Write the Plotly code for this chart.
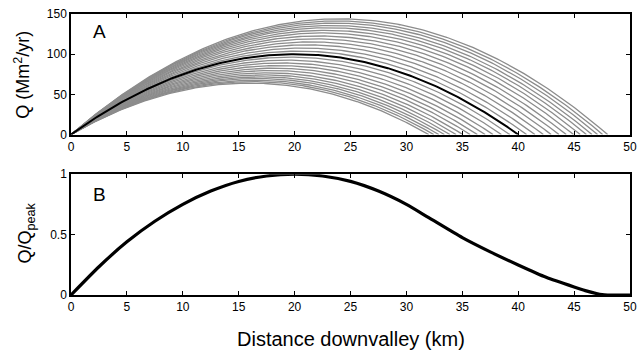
import numpy as np
import plotly.graph_objects as go

# ---- data ----
# Panel A: each gray curve starts at 0 km, peaks mid-way, returns to 0 at its end distance
end_km = [32.0, 32.45, 32.9, 33.4, 33.9, 34.45, 35.05, 35.7, 36.35, 37.05, 37.75, 38.5, 39.25,
          40.75, 41.5, 42.25, 42.95, 43.65, 44.3, 44.95, 45.55, 46.1, 46.6, 47.1, 47.55, 48.0]
peak_q = [64, 65.8, 67.6, 69.7, 71.8, 74.2, 76.8, 79.7, 82.6, 85.8, 89.1, 92.6, 96.3,
          103.8, 107.6, 111.6, 115.3, 119.1, 122.7, 126.4, 129.7, 132.9, 135.7, 138.7, 141.3, 144]
black_end_km = 40.0
black_peak_q = 100.0

# Panel B: normalised discharge
dist_b = [0, 2.5, 5, 7.5, 10, 12.5, 15, 17.5, 20, 22.5, 25, 27.5, 30, 32, 35, 37.5, 40,
          42.5, 45, 46, 47, 47.5, 48, 50]
qnorm_b = [0, 0.234, 0.44, 0.61, 0.75, 0.86, 0.94, 0.985, 1.0, 0.985, 0.94, 0.86, 0.75,
           0.64, 0.475, 0.357, 0.248, 0.146, 0.066, 0.036, 0.012, 0.003, 0, 0]

x_ticks = [0, 5, 10, 15, 20, 25, 30, 35, 40, 45, 50]


def parabola(L, P):
    x = np.linspace(0, L, 200)
    return x, 4 * P * x * (L - x) / (L * L)


fig = go.Figure()
for L, P in zip(end_km, peak_q):
    x, y = parabola(L, P)
    fig.add_trace(go.Scatter(x=x, y=y, mode="lines", line=dict(color="#8c8c8c", width=1.3),
                             xaxis="x", yaxis="y", showlegend=False, hoverinfo="skip"))
x, y = parabola(black_end_km, black_peak_q)
fig.add_trace(go.Scatter(x=x, y=y, mode="lines", line=dict(color="black", width=2),
                         xaxis="x", yaxis="y", showlegend=False))
fig.add_trace(go.Scatter(x=dist_b, y=qnorm_b, mode="lines",
                         line=dict(color="black", width=3.2, shape="spline", smoothing=0.6),
                         xaxis="x2", yaxis="y2", showlegend=False))

font = "Liberation Sans, Arial, Helvetica, sans-serif"
axcommon = dict(showline=True, linecolor="black", linewidth=1.5, mirror="ticks",
                ticks="inside", ticklen=4, tickwidth=1, tickcolor="black",
                showgrid=False, zeroline=False,
                tickfont=dict(family=font, size=12, color="black"))

fig.update_layout(
    width=644, height=358,
    margin=dict(l=71, r=7, t=11, b=63),
    paper_bgcolor="white", plot_bgcolor="white",
    xaxis=dict(domain=[0, 1], range=[0, 50], tickvals=x_ticks, anchor="y", **axcommon),
    yaxis=dict(domain=[0.571, 1], range=[0, 150], tickvals=[0, 50, 100, 150], anchor="x", **axcommon),
    xaxis2=dict(domain=[0, 1], range=[0, 50], tickvals=x_ticks, anchor="y2", **axcommon),
    yaxis2=dict(domain=[0, 0.43], range=[0, 1], tickvals=[0, 0.5, 1], ticktext=["0", "0.5", "1"],
                anchor="x2", **axcommon),
    annotations=[
        dict(text="Q (Mm<sup>2</sup>/yr)", xref="paper", yref="paper", x=-0.087, y=0.785,
             textangle=-90, showarrow=False, xanchor="center", yanchor="middle",
             font=dict(family=font, size=18, color="black")),
        dict(text="Q/Q<sub>peak</sub>", xref="paper", yref="paper", x=-0.079, y=0.222,
             textangle=-90, showarrow=False, xanchor="center", yanchor="middle",
             font=dict(family=font, size=18, color="black")),
        dict(text="Distance downvalley (km)", xref="paper", yref="paper", x=0.5, y=-0.158,
             showarrow=False, xanchor="center", yanchor="middle",
             font=dict(family=font, size=20, color="black")),
        dict(text="A", xref="paper", yref="paper", x=0.036, y=0.939, showarrow=False,
             xanchor="left", yanchor="middle", font=dict(family=font, size=19, color="black")),
        dict(text="B", xref="paper", yref="paper", x=0.036, y=0.359, showarrow=False,
             xanchor="left", yanchor="middle", font=dict(family=font, size=19, color="black")),
    ],
)

fig.write_html("out.html")
